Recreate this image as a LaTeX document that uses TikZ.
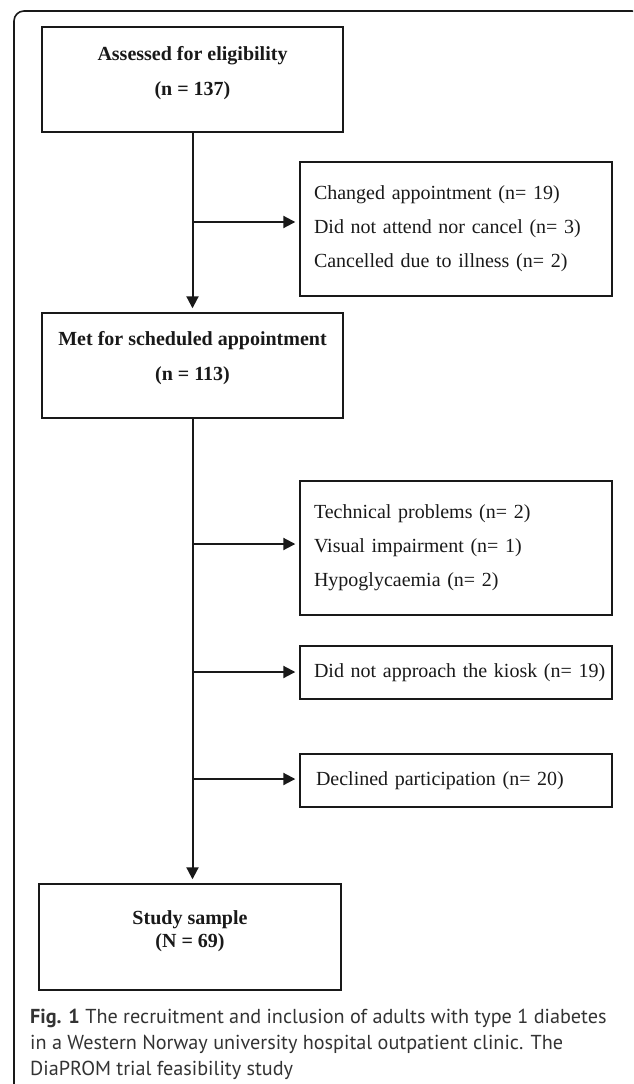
\documentclass[tikz,border=0pt]{standalone}
\usepackage{fontspec}
\setmainfont{Liberation Serif}
\newfontfamily\capfont{PT Sans}
\usetikzlibrary{arrows.meta}
\begin{document}
\begin{tikzpicture}[x=1pt,y=-1pt,
  box/.style={draw=black!90, line width=1.4pt, minimum width=301pt, minimum height=105pt,
    align=center, inner sep=0pt, text=black!90, font=\fontsize{20}{35}\selectfont\bfseries},
  side/.style={draw=black!90, line width=1.4pt, text width=284pt, inner xsep=14pt, inner ysep=0pt,
    minimum height=53pt, align=left, text=black!90, font=\fontsize{20}{34}\selectfont},
  arr/.style={line width=2pt, draw=black!90, -{Triangle[length=12pt,width=12pt]}, shorten >=4pt},
  captext/.style={anchor=base west, inner sep=0pt, text=black!80, font=\capfont\fontsize{20.2}{26}\selectfont}]
\useasboundingbox (0,0) rectangle (633,1084);
\clip (0,0) rectangle (633,1084);
% outer frame
\draw[line width=1.6pt, draw=black!90, rounded corners=10pt] (14,1100) -- (14,11) -- (642,11) -- (642,1100);
% boxes
\node[box, text depth=18pt] (assess) at (192.5,79.5) {Assessed for eligibility\\(n = 137)};
\node[side, minimum height=134pt] (changed) at (456,229)
  {\mbox{Changed appointment (n= 19)}\\\mbox{Did not attend nor cancel (n= 3)}\\\mbox{Cancelled due to illness (n= 2)}};
\node[box, text depth=20pt] (met) at (192.5,365.5) {Met for scheduled appointment\\(n = 113)};
\node[side, minimum height=134pt] (tech) at (456,548)
  {\mbox{Technical problems (n= 2)}\\\mbox{Visual impairment (n= 1)}\\\mbox{Hypoglycaemia (n= 2)}};
\node[side] (kiosk) at (456,672.5) {\mbox{Did not approach the kiosk (n= 19)}};
\node[side] (declined) at (456,780.5) {\mbox{\hspace*{2pt}Declined participation (n= 20)}};
\node[box, minimum width=302pt, minimum height=106pt, text depth=15pt,
  font=\fontsize{20}{23}\selectfont\bfseries] (study) at (190,937) {Study sample\\(N = 69)};
% connectors
\draw[arr] (assess.south) -- (met.north);
\coordinate (j1) at (192.5,222);
\draw[arr] (j1) -- (j1 -| changed.west);
\coordinate (js) at (study.north -| met.south);
\draw[arr] (met.south) -- (js);
\coordinate (j2) at (192.5,544);
\draw[arr] (j2) -- (j2 -| tech.west);
\coordinate (j3) at (192.5,672);
\draw[arr] (j3) -- (j3 -| kiosk.west);
\coordinate (j4) at (192.5,779);
\draw[arr] (j4) -- (j4 -| declined.west);
% caption
\node[captext] (cap1) at (30,1023) {\textbf{Fig. 1} The recruitment and inclusion of adults with type 1 diabetes};
\node[captext] (cap2) at (30,1049) {in a Western Norway university hospital outpatient clinic. The};
\node[captext] (cap3) at (30,1075) {DiaPROM trial feasibility study};
\end{tikzpicture}
\end{document}
